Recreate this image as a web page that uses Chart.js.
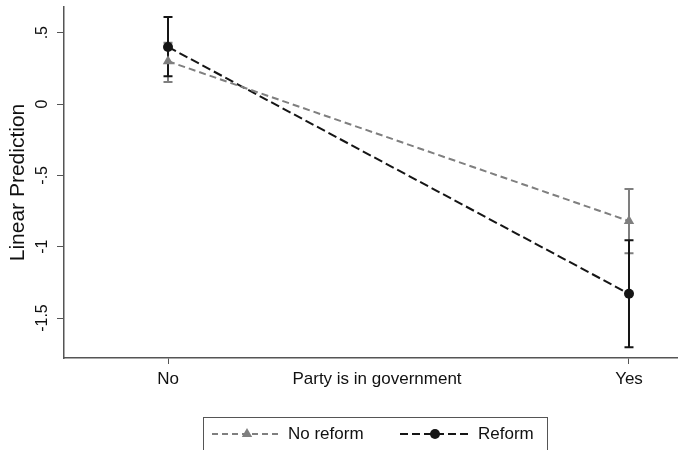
<!DOCTYPE html>
<html>
<head>
<meta charset="utf-8">
<script src="https://cdn.jsdelivr.net/npm/chart.js@4/dist/chart.umd.min.js"></script>
<style>
  html, body { margin: 0; padding: 0; background: #fff; }
  #wrap { width: 678px; height: 450px; }
</style>
</head>
<body>
<div id="wrap"><canvas id="c" width="678" height="450"></canvas></div>
<script>
// ---- Data ----
const categories = ['No', 'Yes'];
const xValues = [0, 1];
const seriesNames = ['No reform', 'Reform'];
const noReformMean = [0.30, -0.82];
const noReformLow = [0.155, -1.045];
const noReformHigh = [0.43, -0.595];
const reformMean = [0.40, -1.33];
const reformLow = [0.195, -1.705];
const reformHigh = [0.61, -0.955];
const yTickValues = [-1.5, -1, -0.5, 0, 0.5];
const yTickLabels = ['-1.5', '-1', '-.5', '0', '.5'];

const GRAY = '#7f7f7f';
const DARK = '#151515';
const AXIS = '#555555';
const FONT = '"Liberation Sans", Arial, sans-serif';

function points(vals) {
  return vals.map((v, i) => ({ x: xValues[i], y: v }));
}

// ---- Error bars (drawn under the lines) ----
const errorBars = {
  id: 'errorBars',
  beforeDatasetsDraw(chart) {
    const { ctx, scales: { x, y } } = chart;
    const bars = [
      { lo: noReformLow, hi: noReformHigh, color: GRAY },
      { lo: reformLow, hi: reformHigh, color: DARK }
    ];
    ctx.save();
    ctx.lineWidth = 2;
    bars.forEach(b => {
      ctx.strokeStyle = b.color;
      xValues.forEach((xv, i) => {
        const px = x.getPixelForValue(xv);
        const top = y.getPixelForValue(b.hi[i]);
        const bot = y.getPixelForValue(b.lo[i]);
        ctx.beginPath();
        ctx.moveTo(px, top); ctx.lineTo(px, bot);
        ctx.moveTo(px - 4.5, top); ctx.lineTo(px + 4.5, top);
        ctx.moveTo(px - 4.5, bot); ctx.lineTo(px + 4.5, bot);
        ctx.stroke();
      });
    });
    ctx.restore();
  }
};

// ---- Rotated y tick labels, x title, Stata-like legend ----
const extras = {
  id: 'extras',
  afterDraw(chart) {
    const { ctx, scales: { y } } = chart;
    ctx.save();
    ctx.fillStyle = '#111';
    ctx.font = '16px ' + FONT;
    ctx.textAlign = 'center';
    ctx.textBaseline = 'middle';
    y.ticks.forEach((t, i) => {
      const py = y.getPixelForValue(t.value);
      ctx.save();
      ctx.translate(43, py);
      ctx.rotate(-Math.PI / 2);
      ctx.fillText(yTickLabels[i], 0, 0);
      ctx.restore();
    });

    // x axis title sits on the tick label line
    ctx.font = '17px ' + FONT;
    ctx.fillText('Party is in government', 377, 379);

    // legend box
    ctx.strokeStyle = AXIS;
    ctx.lineWidth = 1;
    ctx.strokeRect(203.5, 417.5, 344, 40);
    const rowY = 434;
    const entries = [
      { x0: 212, x1: 278, mark: 247, text: 288, color: GRAY, dash: [6, 4], style: 'triangle' },
      { x0: 400, x1: 468, mark: 435, text: 478, color: DARK, dash: [8, 4], style: 'circle' }
    ];
    entries.forEach((e, i) => {
      ctx.strokeStyle = e.color;
      ctx.lineWidth = 2;
      ctx.setLineDash(e.dash);
      ctx.beginPath();
      ctx.moveTo(e.x0, rowY); ctx.lineTo(e.x1, rowY);
      ctx.stroke();
      ctx.setLineDash([]);
      ctx.fillStyle = e.color;
      Chart.helpers.drawPoint(ctx, { pointStyle: e.style, radius: e.style === 'triangle' ? 6 : 5, borderWidth: 0 }, e.mark, rowY);
      ctx.fillStyle = '#111';
      ctx.textAlign = 'left';
      ctx.font = '17px ' + FONT;
      ctx.fillText(seriesNames[i], e.text, rowY);
    });
    ctx.restore();
  }
};

new Chart(document.getElementById('c'), {
  type: 'line',
  data: {
    datasets: [
      {
        label: seriesNames[0],
        data: points(noReformMean),
        borderColor: GRAY,
        backgroundColor: GRAY,
        borderWidth: 2,
        borderDash: [7, 4],
        pointStyle: 'triangle',
        pointRadius: 6,
        pointBorderWidth: 0
      },
      {
        label: seriesNames[1],
        data: points(reformMean),
        borderColor: DARK,
        backgroundColor: DARK,
        borderWidth: 2,
        borderDash: [9, 4],
        pointStyle: 'circle',
        pointRadius: 5,
        pointBorderWidth: 0
      }
    ]
  },
  options: {
    responsive: false,
    animation: false,
    layout: { autoPadding: false, padding: { top: 7, right: 0, bottom: 0, left: 0 } },
    plugins: {
      legend: { display: false },
      tooltip: { enabled: false }
    },
    scales: {
      x: {
        type: 'linear',
        min: -0.2256,
        max: 1.1063,
        afterBuildTicks: s => { s.ticks = xValues.map(v => ({ value: v })); },
        afterFit: s => { s.height = 92; s.paddingLeft = 0; s.paddingRight = 0; },
        ticks: {
          callback: (v, i) => categories[i],
          color: '#111',
          font: { family: FONT, size: 17 },
          padding: 5,
          maxRotation: 0
        },
        grid: { drawOnChartArea: false, drawTicks: true, tickLength: 6, color: AXIS, lineWidth: 1 },
        border: { color: AXIS, width: 1.5 }
      },
      y: {
        min: -1.78,
        max: 0.68,
        afterBuildTicks: s => { s.ticks = yTickValues.map(v => ({ value: v })); },
        afterFit: s => { s.width = 64; s.paddingTop = 0; s.paddingBottom = 0; },
        ticks: { display: false },
        grid: { drawOnChartArea: false, drawTicks: true, tickLength: 7, color: AXIS, lineWidth: 1 },
        border: { color: AXIS, width: 1.5 },
        title: {
          display: true,
          text: 'Linear Prediction',
          color: '#111',
          font: { family: FONT, size: 21 },
          padding: { top: 6, bottom: 0 }
        }
      }
    }
  },
  plugins: [errorBars, extras]
});
</script>
</body>
</html>
